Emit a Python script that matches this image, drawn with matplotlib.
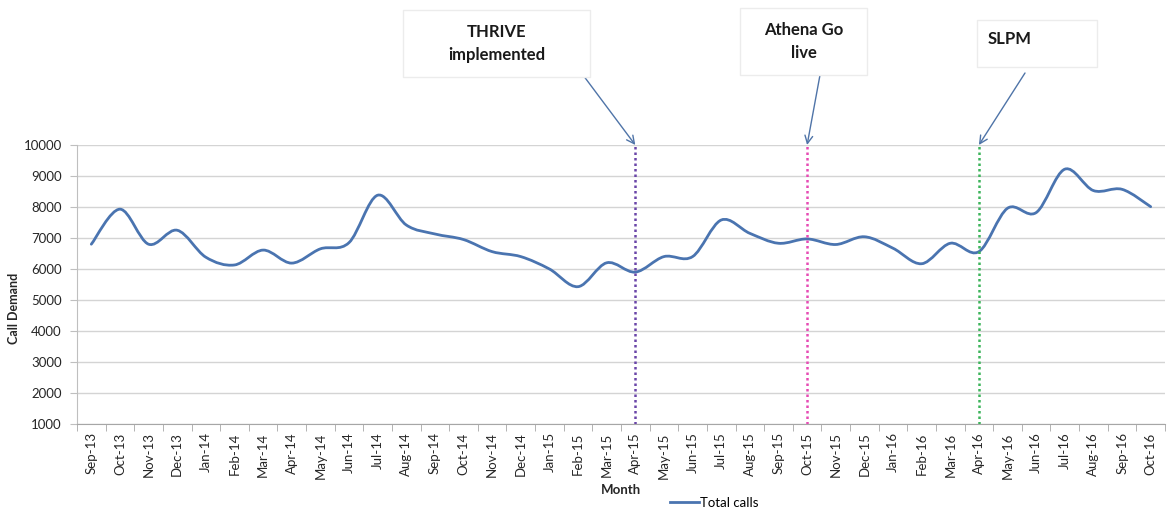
import matplotlib
matplotlib.use("Agg")
import matplotlib.pyplot as plt
import numpy as np
from matplotlib.path import Path
from matplotlib.patches import PathPatch, Rectangle
from matplotlib.lines import Line2D

plt.rcParams["font.family"] = ["Lato", "DejaVu Sans"]

# 数据
months = ["Sep-13", "Oct-13", "Nov-13", "Dec-13", "Jan-14", "Feb-14", "Mar-14",
          "Apr-14", "May-14", "Jun-14", "Jul-14", "Aug-14", "Sep-14", "Oct-14",
          "Nov-14", "Dec-14", "Jan-15", "Feb-15", "Mar-15", "Apr-15", "May-15",
          "Jun-15", "Jul-15", "Aug-15", "Sep-15", "Oct-15", "Nov-15", "Dec-15",
          "Jan-16", "Feb-16", "Mar-16", "Apr-16", "May-16", "Jun-16", "Jul-16",
          "Aug-16", "Sep-16", "Oct-16"]
total_calls = [6800, 7930, 6800, 7250, 6380, 6130, 6610, 6190, 6650, 6850,
               8380, 7420, 7130, 6950, 6560, 6400, 6000, 5430, 6200, 5900,
               6400, 6400, 7580, 7150, 6830, 6970, 6790, 7040, 6670, 6170,
               6830, 6560, 7960, 7820, 9220, 8530, 8570, 8010]

events = ["Apr-15", "Oct-15", "Apr-16"]
event_colors = ["#6a45a8", "#e64bb4", "#3cb45a"]


def smooth_path(x, y):
    """Excel 风格平滑线：Catmull-Rom 转 Bezier"""
    pts = np.column_stack([x, y]).astype(float)
    n = len(pts)
    verts = [pts[0]]
    codes = [Path.MOVETO]
    for i in range(n - 1):
        p0 = pts[max(i - 1, 0)]
        p1 = pts[i]
        p2 = pts[i + 1]
        p3 = pts[min(i + 2, n - 1)]
        c1 = p1 + (p2 - p0) / 6.0
        c2 = p2 - (p3 - p1) / 6.0
        verts += [c1, c2, p2]
        codes += [Path.CURVE4] * 3
    return Path(verts, codes)


W, H = 1171, 511
fig = plt.figure(figsize=(W / 100, H / 100), dpi=100)
ax = fig.add_axes([77 / W, 1 - 424 / H, (1165 - 77) / W, (424 - 145) / H])

x = np.arange(len(months))
ax.add_patch(PathPatch(smooth_path(x, total_calls), facecolor="none",
                       edgecolor="#4a74b0", linewidth=2.0, capstyle="round"))

for ev_name, col in zip(events, event_colors):
    ax.axvline(months.index(ev_name), ymin=0, ymax=1, color=col,
               linestyle=(0, (1, 1.2)), linewidth=1.8, zorder=3)

ax.set_xlim(-0.5, len(months) - 0.5)
ax.set_ylim(1000, 10000)
ax.set_yticks(range(1000, 10001, 1000))
ax.yaxis.grid(True, color="#d4d4d4", linewidth=1.0)
ax.set_axisbelow(True)

ax.set_xticks(x)
ax.set_xticklabels(months, rotation=90, fontsize=9.5, color="#262626")
ax.set_xticks(np.arange(-0.5, len(months), 1.0), minor=True)
ax.tick_params(axis="x", which="major", length=0, pad=6)
ax.tick_params(axis="x", which="minor", length=5, color="#a6a6a6", direction="out")
ax.tick_params(axis="y", length=5, color="#bfbfbf", labelsize=9.5, labelcolor="#262626", pad=6)

for s in ["top", "right"]:
    ax.spines[s].set_visible(False)
ax.spines["left"].set_color("#bfbfbf")
ax.spines["bottom"].set_color("#a6a6a6")

# 轴标题
fig.text(14 / W, 1 - 308 / H, "Call Demand", rotation=90, ha="center", va="center",
         fontsize=9, fontweight="bold", color="#262626")
fig.text(621 / W, 1 - 490 / H, "Month", ha="center", va="center",
         fontsize=9.5, fontweight="bold", color="#262626")

# 图例
fig.legend(handles=[Line2D([], [], color="#4a74b0", linewidth=2.0)], labels=["Total calls"],
           loc="center", bbox_to_anchor=(714 / W, 1 - 503 / H), frameon=False,
           fontsize=9.5, handlelength=2.2, handletextpad=0.1, borderpad=0)

# 注释框
boxes = [
    ("THRIVE\nimplemented", (403, 10, 590, 77), "center", (583, 75), "Apr-15"),
    ("Athena Go\nlive", (740, 8, 867, 75), "center", (820, 75), "Oct-15"),
    ("SLPM", (977, 20, 1097, 67), "left", (1025, 73), "Apr-16"),
]
for label, (x0, y0, x1, y1), align, start, target in boxes:
    fig.patches.append(Rectangle((x0 / W, 1 - y1 / H), (x1 - x0) / W, (y1 - y0) / H,
                                 transform=fig.transFigure, facecolor="white",
                                 edgecolor="#ececec", linewidth=1.0))
    if align == "center":
        fig.text((x0 + x1) / 2 / W, 1 - (y0 + y1) / 2 / H, label, ha="center", va="center",
                 fontsize=12, fontweight="bold", color="#1a1a1a", linespacing=1.55)
    else:
        fig.text((x0 + 11) / W, 1 - 39 / H, label, ha="left", va="center",
                 fontsize=12, fontweight="bold", color="#1a1a1a")
    ax.annotate("", xy=(months.index(target), 10000), xycoords="data",
                xytext=(start[0] / W, 1 - start[1] / H), textcoords="figure fraction",
                arrowprops=dict(arrowstyle="->", color="#4f74a8", linewidth=1.0,
                                mutation_scale=14, shrinkA=0, shrinkB=0),
                annotation_clip=False)

plt.savefig("out.png", dpi=100)
